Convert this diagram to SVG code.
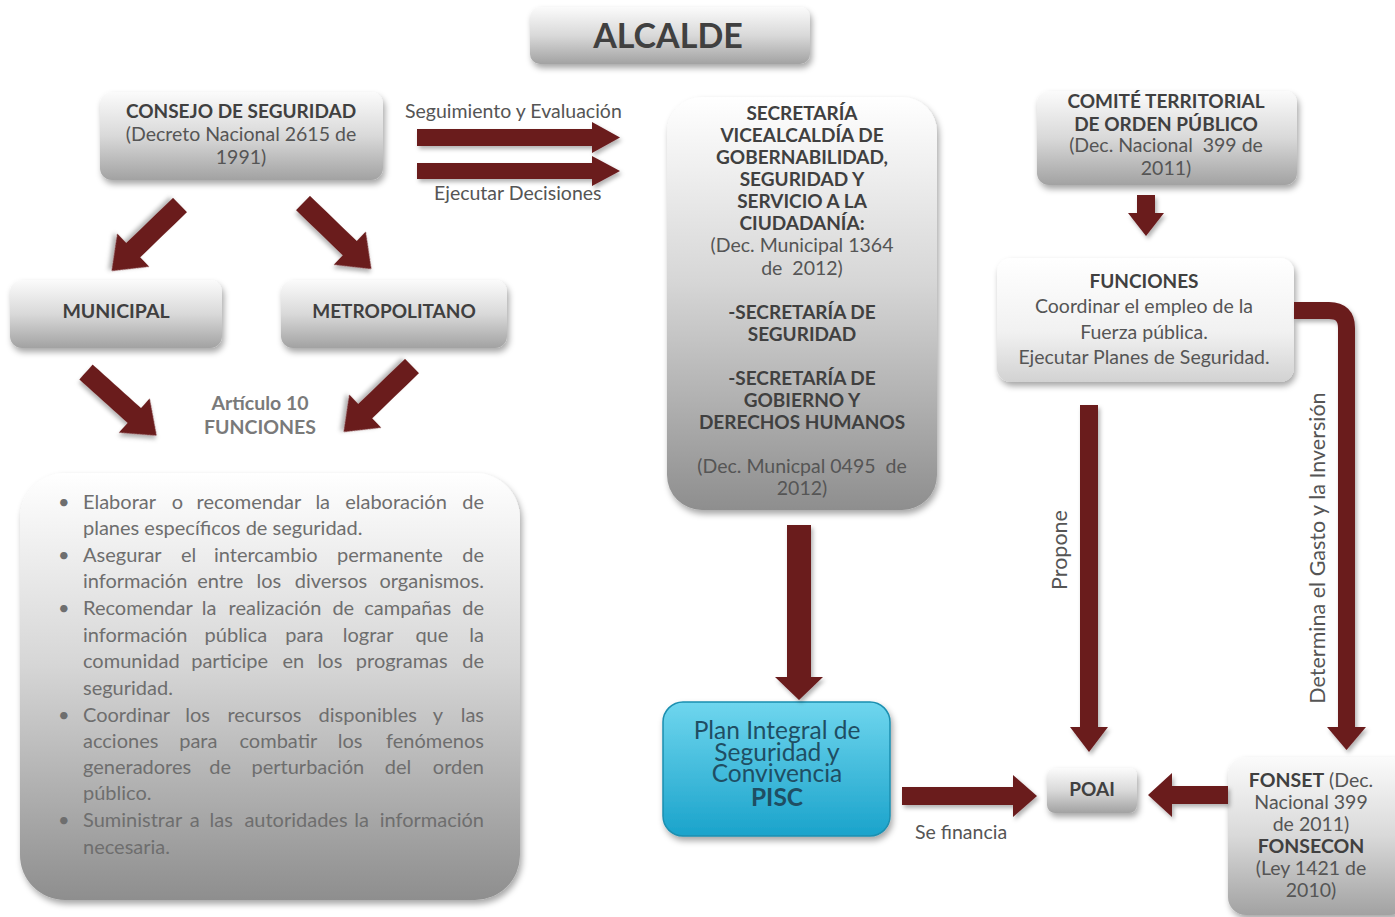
<svg xmlns="http://www.w3.org/2000/svg" xmlns:xlink="http://www.w3.org/1999/xlink" width="1395" height="917" viewBox="0 0 1395 917">
<defs>
<linearGradient id="g" x1="0" y1="0" x2="0" y2="1"><stop offset="0" stop-color="#fbfbfb"/><stop offset="0.5" stop-color="#d9d9d9"/><stop offset="1" stop-color="#a2a2a2"/></linearGradient>
<linearGradient id="gBig" x1="0" y1="0" x2="0" y2="1"><stop offset="0" stop-color="#ffffff"/><stop offset="0.45" stop-color="#d6d6d6"/><stop offset="1" stop-color="#8e8e8e"/></linearGradient>
<linearGradient id="gLight" x1="0" y1="0" x2="0" y2="1"><stop offset="0" stop-color="#ffffff"/><stop offset="0.6" stop-color="#f1f1f1"/><stop offset="1" stop-color="#d2d2d2"/></linearGradient>
<linearGradient id="gCyan" x1="0" y1="0" x2="0" y2="1"><stop offset="0" stop-color="#6fd6ee"/><stop offset="1" stop-color="#1aa3cb"/></linearGradient>
<filter id="sh" x="-20%" y="-20%" width="140%" height="150%"><feDropShadow dx="2" dy="4" stdDeviation="3" flood-color="#000" flood-opacity="0.35"/></filter>
<filter id="ash" x="-30%" y="-30%" width="160%" height="160%"><feDropShadow dx="2" dy="3" stdDeviation="2" flood-color="#000" flood-opacity="0.3"/></filter>
<path id="diag" d="M0,-10 H65 V-23 L95,0 L65,23 V10 H0 Z"/>
<style>
text{font-family:Lato,'Open Sans',sans-serif;}
.t{font-size:19px;font-weight:bold;fill:#404040;text-anchor:middle;}
.n{font-size:19.5px;fill:#555555;text-anchor:middle;}
.lbl{font-size:19.5px;fill:#555555;}
.vl{font-size:21.5px;fill:#555555;text-anchor:middle;}
.li{font-size:20px;fill:#6e6e6e;}
.e{text-anchor:end;}
.pt{font-size:24.5px;fill:#1f4e63;text-anchor:middle;}
.box{fill:url(#g);filter:url(#sh);}
.arr{fill:#6a1b1e;filter:url(#ash);}
</style>
</defs>

<g id="alcalde"><rect class="box" x="530" y="7" width="280" height="57" rx="10"/><text class="t" x="668" y="48" style="font-size:34px">ALCALDE</text></g>

<g id="consejo"><rect class="box" x="100" y="92" width="283" height="88" rx="12"/>
<text class="t" x="241" y="118">CONSEJO DE SEGURIDAD</text>
<text class="n" x="241" y="141">(Decreto Nacional 2615 de</text>
<text class="n" x="241" y="164">1991)</text></g>

<g id="municipal"><rect class="box" x="10" y="280" width="212" height="68" rx="12"/><text class="t" x="116" y="318" style="font-size:19.5px">MUNICIPAL</text></g>
<g id="metropolitano"><rect class="box" x="281" y="280" width="226" height="68" rx="12"/><text class="t" x="394" y="318">METROPOLITANO</text></g>

<g id="articulo"><text class="t" x="260" y="410" style="fill:#7a7a7a;font-size:19.5px">Artículo 10</text><text class="t" x="260" y="434" style="fill:#7a7a7a;font-size:19.5px">FUNCIONES</text></g>

<g id="lista"><rect x="20" y="473" width="500" height="427" rx="45" fill="url(#gBig)" filter="url(#sh)"/>
<g class="li">
<text x="58" y="509">•</text><text x="58" y="562">•</text><text x="58" y="615">•</text><text x="58" y="722">•</text><text x="58" y="827">•</text>
<text y="509"><tspan x="83">Elaborar</tspan><tspan x="171.8">o</tspan><tspan x="196.6">recomendar</tspan><tspan x="315.4">la</tspan><tspan x="345.2">elaboración</tspan><tspan x="484" class="e">de</tspan></text>
<text x="83" y="535">planes específicos de seguridad.</text>
<text y="562"><tspan x="83">Asegurar</tspan><tspan x="181">el</tspan><tspan x="214">intercambio</tspan><tspan x="337">permanente</tspan><tspan x="484" class="e">de</tspan></text>
<text y="588"><tspan x="83">información</tspan><tspan x="197.2">entre</tspan><tspan x="256.5">los</tspan><tspan x="294.7">diversos</tspan><tspan x="484" class="e">organismos.</tspan></text>
<text y="615"><tspan x="83">Recomendar</tspan><tspan x="201.8">la</tspan><tspan x="228.6">realización</tspan><tspan x="332.4">de</tspan><tspan x="364.2">campañas</tspan><tspan x="484" class="e">de</tspan></text>
<text y="642"><tspan x="83">información</tspan><tspan x="204.6">pública</tspan><tspan x="285.2">para</tspan><tspan x="342.8">lograr</tspan><tspan x="415.4">que</tspan><tspan x="484" class="e">la</tspan></text>
<text y="668"><tspan x="83">comunidad</tspan><tspan x="191.2">participe</tspan><tspan x="282.4">en</tspan><tspan x="317.6">los</tspan><tspan x="355.8">programas</tspan><tspan x="484" class="e">de</tspan></text>
<text x="83" y="695">seguridad.</text>
<text y="722"><tspan x="83">Coordinar</tspan><tspan x="185.2">los</tspan><tspan x="227.4">recursos</tspan><tspan x="318.6">disponibles</tspan><tspan x="432.8">y</tspan><tspan x="484" class="e">las</tspan></text>
<text y="748"><tspan x="83">acciones</tspan><tspan x="179.2">para</tspan><tspan x="239.5">combatir</tspan><tspan x="337.7">los</tspan><tspan x="484" class="e">fenómenos</tspan></text>
<text y="774"><tspan x="83">generadores</tspan><tspan x="209.2">de</tspan><tspan x="251.5">perturbación</tspan><tspan x="384.7">del</tspan><tspan x="484" class="e">orden</tspan></text>
<text x="83" y="800">público.</text>
<text y="827"><tspan x="83">Suministrar</tspan><tspan x="189.8">a</tspan><tspan x="209.6">las</tspan><tspan x="244.4">autoridades</tspan><tspan x="354.2">la</tspan><tspan x="484" class="e">información</tspan></text>
<text x="83" y="854">necesaria.</text>
</g></g>

<g id="secretaria"><rect x="667" y="97" width="270" height="413" rx="35" fill="url(#gBig)" filter="url(#sh)"/>
<text class="t" x="802" y="120">SECRETARÍA</text>
<text class="t" x="802" y="142">VICEALCALDÍA DE</text>
<text class="t" x="802" y="164">GOBERNABILIDAD,</text>
<text class="t" x="802" y="186">SEGURIDAD Y</text>
<text class="t" x="802" y="208">SERVICIO A LA</text>
<text class="t" x="802" y="230">CIUDADANÍA:</text>
<text class="n" x="802" y="252">(Dec. Municipal 1364</text>
<text class="n" x="802" y="275" xml:space="preserve">de  2012)</text>
<text class="t" x="802" y="319">-SECRETARÍA DE</text>
<text class="t" x="802" y="341">SEGURIDAD</text>
<text class="t" x="802" y="385">-SECRETARÍA DE</text>
<text class="t" x="802" y="407">GOBIERNO Y</text>
<text class="t" x="802" y="429">DERECHOS HUMANOS</text>
<text class="n" x="802" y="473" xml:space="preserve">(Dec. Municpal 0495  de</text>
<text class="n" x="802" y="495">2012)</text></g>

<g id="pisc"><rect x="663" y="702" width="227" height="134" rx="20" fill="url(#gCyan)" stroke="#1b8fb0" stroke-width="1.5" filter="url(#sh)"/>
<text class="pt" x="777" y="739">Plan Integral de</text>
<text class="pt" x="777" y="761">Seguridad y</text>
<text class="pt" x="777" y="782">Convivencia</text>
<text class="pt" x="777" y="806" style="font-weight:bold">PISC</text></g>

<g id="poai"><rect class="box" x="1047" y="768" width="90" height="45" rx="8"/><text class="t" x="1092" y="796">POAI</text></g>

<g id="fonset"><rect x="1228" y="757" width="180" height="158" rx="18" fill="url(#g)" filter="url(#sh)"/>
<text class="n" x="1311" y="787"><tspan style="font-weight:bold;fill:#404040">FONSET</tspan> (Dec.</text>
<text class="n" x="1311" y="809">Nacional 399</text>
<text class="n" x="1311" y="831">de 2011)</text>
<text class="t" x="1311" y="853" style="font-size:19.5px">FONSECON</text>
<text class="n" x="1311" y="875">(Ley 1421 de</text>
<text class="n" x="1311" y="897">2010)</text></g>

<g id="comite"><rect class="box" x="1037" y="91" width="260" height="94" rx="12"/>
<text class="t" x="1166" y="108">COMITÉ TERRITORIAL</text>
<text class="t" x="1166" y="131">DE ORDEN PÚBLICO</text>
<text class="n" x="1166" y="152" xml:space="preserve">(Dec. Nacional  399 de</text>
<text class="n" x="1166" y="175">2011)</text></g>

<g id="funciones"><rect x="997" y="258" width="297" height="124" rx="14" fill="url(#gLight)" filter="url(#sh)"/>
<text class="t" x="1144" y="288">FUNCIONES</text>
<text class="n" x="1144" y="313">Coordinar el empleo de la</text>
<text class="n" x="1144" y="339">Fuerza pública.</text>
<text class="n" x="1144" y="364">Ejecutar Planes de Seguridad.</text></g>

<g id="connectors">
<polygon class="arr" points="417,129 592,129 592,122 620,137.5 592,153 592,146 417,146"/>
<polygon class="arr" points="417,163 592,163 592,156 620,171 592,186 592,179 417,179"/>
<text class="lbl" x="405" y="118">Seguimiento y Evaluación</text>
<text class="lbl" x="434" y="200">Ejecutar Decisiones</text>
<use class="arr" href="#diag" transform="translate(180,205) rotate(136)"/>
<use class="arr" href="#diag" transform="translate(303,203) rotate(44)"/>
<use class="arr" href="#diag" transform="translate(86,372) rotate(42)"/>
<use class="arr" href="#diag" transform="translate(412,366) rotate(136)"/>
<polygon class="arr" points="787,525 811,525 811,677 823,677 799,700 775,677 787,677"/>
<polygon class="arr" points="902,787 1013,787 1013,775 1037,796 1013,817 1013,805 902,805"/>
<text class="lbl" x="915" y="839">Se financia</text>
<polygon class="arr" points="1228,786 1172,786 1172,773 1148,795 1172,817 1172,804 1228,804"/>
<polygon class="arr" points="1137,195 1155,195 1155,213 1164,213 1146,236 1128,213 1137,213"/>
<polygon class="arr" points="1080,405 1098,405 1098,727 1108,727 1089,752 1070,727 1080,727"/>
<text class="vl" transform="translate(1067,550) rotate(-90)">Propone</text>
<g filter="url(#ash)"><path d="M1294,310.5 H1329 Q1346.5,310.5 1346.5,328 V728" fill="none" stroke="#6a1b1e" stroke-width="17"/><polygon points="1327,727 1366,727 1346.5,750" fill="#6a1b1e"/></g>
<text class="vl" transform="translate(1325,548) rotate(-90)">Determina el Gasto y la Inversión</text>
</g>
</svg>
